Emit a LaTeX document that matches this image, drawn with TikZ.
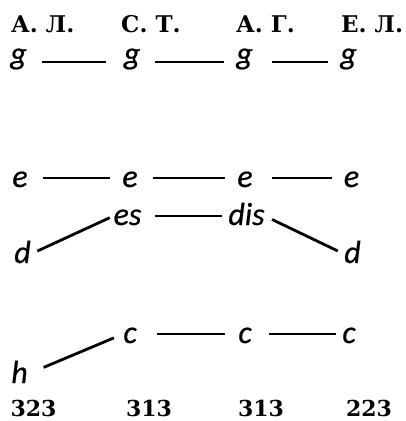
\documentclass[tikz,border=0pt]{standalone}
\usepackage{fontspec}
\newfontfamily\notefont{Carlito}[ItalicFont=* Italic,ItalicFeatures={FakeBold=0.6}]
\newfontfamily\headfont{DejaVu Serif}
\begin{document}
\begin{tikzpicture}[x=1pt,y=-1pt,
  head/.style={anchor=base west,inner sep=0pt,font=\headfont\bfseries\fontsize{23}{23}\selectfont},
  num/.style={anchor=base,inner sep=0pt,font=\headfont\bfseries\fontsize{22}{22}\selectfont},
  note/.style={anchor=base,inner sep=0pt,text depth=0pt,text height=18pt,font=\notefont\itshape\fontsize{32}{32}\selectfont},
  gnote/.style={note,text height=4pt},
  link/.style={line width=2.8pt,shorten <=15pt,shorten >=12pt},
  diag/.style={line width=2.8pt}]
\useasboundingbox (0,0) rectangle (405,421);
% headers
\node[head] (h1) at (11,32) {А. Л.};
\node[head] (h2) at (121,32) {С. Т.};
\node[head] (h3) at (236,32) {А. Г.};
\node[head] (h4) at (341,32) {Е. Л.};
% g row
\node[gnote] (g1) at (18.5,64) {g};
\node[gnote] (g2) at (132,64) {g};
\node[gnote] (g3) at (244.5,64) {g};
\node[gnote] (g4) at (348.5,64) {g};
\draw[link,shorten >=18pt] (g1.east) -- (g2.west);
\draw[link] (g2.east) -- (g3.west);
\draw[link,shorten <=19pt] (g3.east) -- (g4.west);
% e row
\node[note] (e1) at (20,187) {e};
\node[note] (e2) at (130,187) {e};
\node[note] (e3) at (245,187) {e};
\node[note] (e4) at (351.5,187) {e};
\draw[link] (e1.east) -- (e2.west);
\draw[link] (e2.east) -- (e3.west);
\draw[link,shorten <=19pt] (e3.east) -- (e4.west);
% es dis row
\node[note] (es) at (127.5,225) {es};
\node[note] (dis) at (246.5,225) {dis};
\draw[link,shorten <=13pt,shorten >=6pt] (es.east) -- (dis.west);
\node[note] (d1) at (22.5,263) {d};
\node[note] (d2) at (352.5,263) {d};
\draw[diag,shorten <=7pt,shorten >=4pt] (d1.east) -- (es.west);
\draw[diag,shorten <=8pt,shorten >=7pt] (dis.east) -- (d2.west);
% c row
\node[note] (c1) at (130,343) {c};
\node[note] (c2) at (245,343) {c};
\node[note] (c3) at (349,343) {c};
\draw[link,shorten <=20pt,shorten >=13pt] (c1.east) -- (c2.west);
\draw[link,shorten <=17pt,shorten >=6pt] (c2.east) -- (c3.west);
\node[note] (hh) at (19.5,383) {h};
\draw[diag,shorten <=17pt,shorten >=10pt] (hh.east) -- (c1.west);
% numbers
\node[num] (n1) at (33.5,416.7) {323};
\node[num] (n2) at (149,416.7) {313};
\node[num] (n3) at (261,416.7) {313};
\node[num] (n4) at (369,416.7) {223};
\end{tikzpicture}
\end{document}
